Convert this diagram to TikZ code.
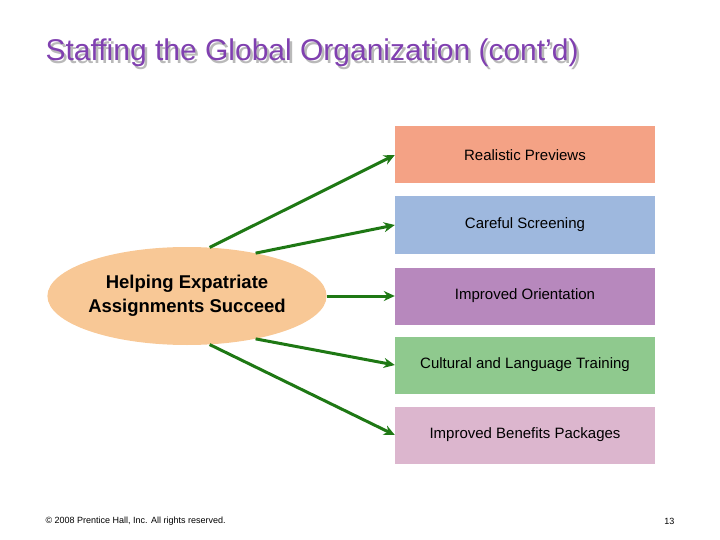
\documentclass[tikz,border=0pt]{standalone}
\usepackage{fontspec}
\setmainfont{Liberation Sans}
\usetikzlibrary{arrows.meta,shapes.geometric}
\definecolor{tpurple}{RGB}{128,64,176}
\definecolor{arr}{RGB}{30,120,20}
\definecolor{c1}{RGB}{244,162,133}
\definecolor{c2}{RGB}{158,184,222}
\definecolor{c3}{RGB}{183,136,189}
\definecolor{c4}{RGB}{143,201,142}
\definecolor{c5}{RGB}{220,182,206}
\definecolor{ell}{RGB}{248,200,150}
\begin{document}
\begin{tikzpicture}[x=1pt,y=-1pt,
  box/.style={fill=#1,minimum width=260pt,minimum height=57pt,inner sep=0pt,font=\fontsize{15}{18}\selectfont},
  conn/.style={draw=arr,line width=3pt,-{Stealth[length=11pt,width=10pt]}}]
\useasboundingbox (0,0) rectangle (720,540);
\node[anchor=west,text=gray!55,font=\fontsize{30}{34}\selectfont] (shadow) at (44.5,55.5) {Staffing the Global Organization (cont’d)};
\node[anchor=west,text=tpurple,font=\fontsize{30}{34}\selectfont] (title) at (42,53) {Staffing the Global Organization (cont’d)};
\node[box=c1] (b1) at (525,155) {Realistic Previews};
\node[box=c2] (b2) at (525,225) {Careful Screening};
\node[box=c3] (b3) at (525,296) {Improved Orientation};
\node[box=c4] (b4) at (525,365) {Cultural and Language Training};
\node[box=c5] (b5) at (525,435) {Improved Benefits Packages};
\node[fill=ell,ellipse,minimum width=260pt,minimum height=98pt,inner sep=0pt,align=center,font=\bfseries\fontsize{18.5}{24}\selectfont] (e) at (187,296) {Helping Expatriate\\Assignments Succeed};
\draw[conn] (e.65) -- (b1.west);
\draw[conn] (e.32) -- (b2.west);
\draw[conn] (e.east) -- (b3.west);
\draw[conn] (e.-32) -- (b4.west);
\draw[conn] (e.-65) -- (b5.west);
\node[anchor=west,font=\fontsize{9}{10}\selectfont] (copy) at (42,521) {© 2008 Prentice Hall, Inc. All rights reserved.};
\node[anchor=east,font=\fontsize{9}{10}\selectfont] (pg) at (678,521) {13};
\end{tikzpicture}
\end{document}
